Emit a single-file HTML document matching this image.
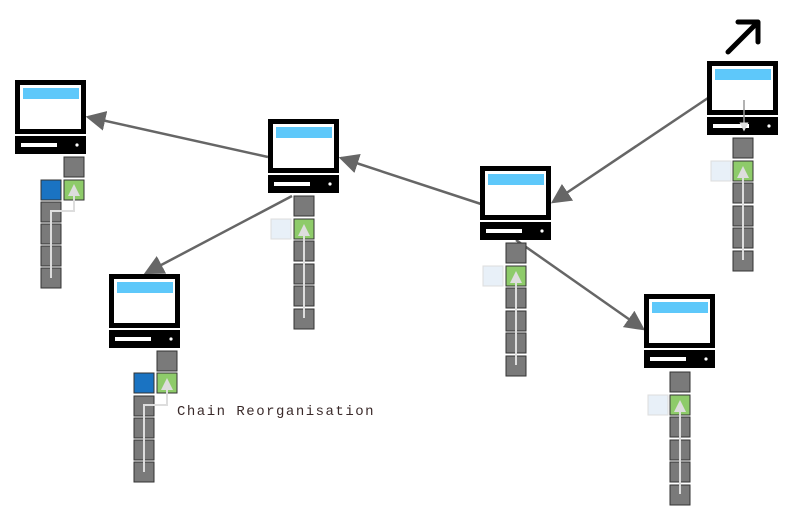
<!DOCTYPE html>
<html><head><style>html,body{margin:0;padding:0;background:#fff;}svg{display:block}</style></head><body>
<svg width="800" height="520" viewBox="0 0 800 520" xmlns="http://www.w3.org/2000/svg">
<defs>
<marker id="ah" markerWidth="8" markerHeight="8" refX="7" refY="4" orient="auto" markerUnits="strokeWidth">
<path d="M0,0 L8,4 L0,8 Z" fill="#666"/></marker>
<marker id="wh" markerWidth="6" markerHeight="6" refX="5" refY="3" orient="auto" markerUnits="strokeWidth">
<path d="M0,0 L6,3 L0,6 Z" fill="#ddd"/></marker>
<g id="pc">
<rect x="0" y="0" width="71" height="54" fill="#000"/>
<rect x="5" y="5" width="61" height="44" fill="#fff"/>
<rect x="8" y="8" width="56" height="11" fill="#5ec8fa"/>
<rect x="0" y="56" width="71" height="18" fill="#000"/>
<rect x="6" y="63" width="36" height="4" fill="#fff"/>
<circle cx="62" cy="65" r="1.6" fill="#fff"/>
</g>
<rect id="b" width="20" height="20" fill="#7a7a7a" stroke="#333" stroke-width="1"/>
<rect id="g" width="20" height="20" fill="#8ecb6a" stroke="#333" stroke-width="1"/>
<rect id="u" width="20" height="20" fill="#1a73c2" stroke="#333" stroke-width="1"/>
<rect id="p" width="20" height="20" fill="#e8f0f8" stroke="#ddd" stroke-width="1"/>
</defs>
<g stroke="#666" stroke-width="2.5" fill="none">
<line x1="268" y1="157" x2="88" y2="117" marker-end="url(#ah)"/>
<line x1="481" y1="204" x2="341" y2="158" marker-end="url(#ah)"/>
<line x1="708" y1="98" x2="553" y2="202" marker-end="url(#ah)"/>
<line x1="292" y1="196" x2="146" y2="273" marker-end="url(#ah)"/>
<line x1="516" y1="240" x2="643" y2="329" marker-end="url(#ah)"/>
</g>
<use href="#pc" x="15" y="80"/>
<use href="#pc" x="268" y="119"/>
<use href="#pc" x="480" y="166"/>
<use href="#pc" x="707" y="61"/>
<use href="#pc" x="109" y="274"/>
<use href="#pc" x="644" y="294"/>
<!-- C1 -->
<use href="#b" x="64" y="157"/><use href="#g" x="64" y="180"/><use href="#u" x="41" y="180"/>
<use href="#b" x="41" y="202"/><use href="#b" x="41" y="224"/><use href="#b" x="41" y="246"/><use href="#b" x="41" y="268"/>
<path d="M51,278 V211 H74 V186" stroke="#ddd" stroke-width="2" fill="none" marker-end="url(#wh)"/>
<!-- C5 -->
<use href="#b" x="157" y="351"/><use href="#g" x="157" y="373"/><use href="#u" x="134" y="373"/>
<use href="#b" x="134" y="396"/><use href="#b" x="134" y="418"/><use href="#b" x="134" y="440"/><use href="#b" x="134" y="462"/>
<path d="M144,472 V405 H167 V380" stroke="#ddd" stroke-width="2" fill="none" marker-end="url(#wh)"/>
<!-- C2 -->
<use href="#p" x="271" y="219"/>
<use href="#b" x="294" y="196"/><use href="#g" x="294" y="219"/><use href="#b" x="294" y="241"/><use href="#b" x="294" y="264"/><use href="#b" x="294" y="286"/><use href="#b" x="294" y="309"/>
<line x1="304" y1="318" x2="304" y2="226" stroke="#ddd" stroke-width="2" marker-end="url(#wh)"/>
<!-- C3 -->
<use href="#p" x="483" y="266"/>
<use href="#b" x="506" y="243"/><use href="#g" x="506" y="266"/><use href="#b" x="506" y="288"/><use href="#b" x="506" y="311"/><use href="#b" x="506" y="333"/><use href="#b" x="506" y="356"/>
<line x1="516" y1="365" x2="516" y2="273" stroke="#ddd" stroke-width="2" marker-end="url(#wh)"/>
<!-- C4 -->
<use href="#p" x="711" y="161"/>
<use href="#b" x="733" y="138"/><use href="#g" x="733" y="161"/><use href="#b" x="733" y="183"/><use href="#b" x="733" y="206"/><use href="#b" x="733" y="228"/><use href="#b" x="733" y="251"/>
<line x1="743" y1="260" x2="743" y2="168" stroke="#ddd" stroke-width="2" marker-end="url(#wh)"/>
<line x1="744" y1="100" x2="744" y2="130" stroke="#999" stroke-width="1.5" marker-end="url(#wh)"/>
<!-- C6 -->
<use href="#p" x="648" y="395"/>
<use href="#b" x="670" y="372"/><use href="#g" x="670" y="395"/><use href="#b" x="670" y="417"/><use href="#b" x="670" y="440"/><use href="#b" x="670" y="462"/><use href="#b" x="670" y="485"/>
<line x1="680" y1="494" x2="680" y2="402" stroke="#ddd" stroke-width="2" marker-end="url(#wh)"/>
<!-- big arrow -->
<g stroke="#000" stroke-width="5" stroke-linecap="round" stroke-linejoin="round" fill="none">
<line x1="728" y1="52" x2="756" y2="24"/>
<polyline points="738,22 758,22 758,42"/>
</g>
<text x="177" y="415" font-family="Liberation Mono, monospace" font-size="14" letter-spacing="1.5" fill="#3a2a2a">Chain Reorganisation</text>
</svg>
</body></html>
